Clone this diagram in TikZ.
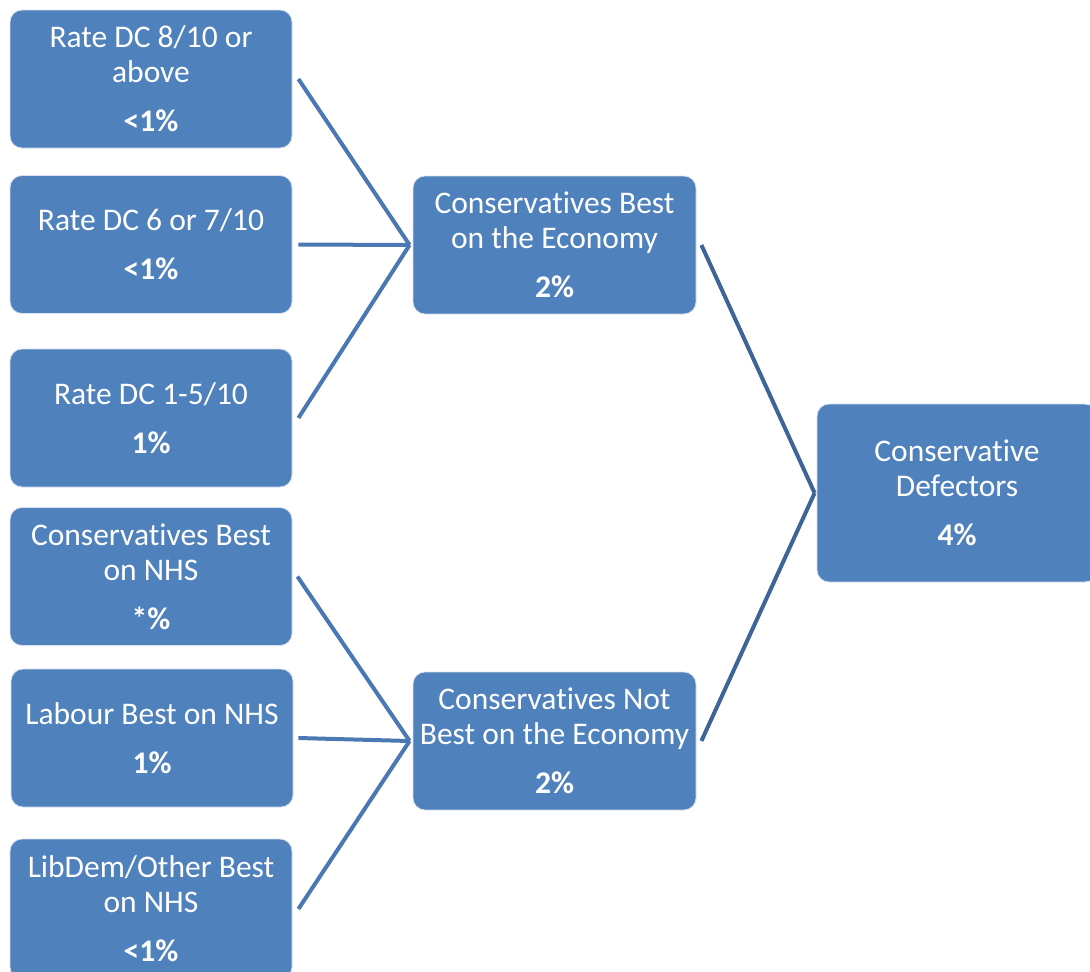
\documentclass[tikz,border=0pt]{standalone}
\usepackage{fontspec}
\setmainfont{Carlito}[Ligatures={NoCommon}]
\definecolor{boxblue}{HTML}{4F81BD}
\definecolor{edgeblue}{HTML}{D6E0EE}
\definecolor{lineleft}{HTML}{4A78B2}
\definecolor{lineright}{HTML}{3E6598}
\begin{document}
\begin{tikzpicture}[x=1pt,y=-1pt,
  box/.style={rectangle, rounded corners=12pt, fill=boxblue, draw=edgeblue, line width=0.8pt,
    minimum width=282pt, minimum height=138pt, text=white, align=center, inner sep=0pt,
    font=\fontsize{31.5}{35}\selectfont},
  connl/.style={draw=lineleft, line width=4pt},
  connr/.style={draw=lineright, line width=4pt}]
\useasboundingbox (0,0) rectangle (1090,972);
\clip (0,0) rectangle (1090,972);
% left column
\node[box] (b1) at (151,79) {Rate DC 8/10 or\\above\\[14pt]\textbf{<1\%}};
\node[box] (b2) at (151,244.5) {Rate DC 6 or 7/10\\[14pt]\textbf{<1\%}};
\node[box] (b3) at (151,418) {Rate DC 1-5/10\\[14pt]\textbf{1\%}};
\node[box] (b4) at (151,576.5) {Conservatives Best\\on NHS\\[14pt]\textbf{*\%}};
\node[box] (b5) at (152,738) {Labour Best on NHS\\[14pt]\textbf{1\%}};
\node[box, minimum height=140pt] (b6) at (151,909) {LibDem/Other Best\\on NHS\\[14pt]\textbf{<1\%}};
% middle column
\node[box, minimum width=283pt] (mA) at (554.5,245) {Conservatives Best\\on the Economy\\[14pt]\textbf{2\%}};
\node[box, minimum width=283pt] (mB) at (554.5,741) {Conservatives Not\\Best on the Economy\\[14pt]\textbf{2\%}};
% right
\node[box, minimum width=280pt, minimum height=178pt] (cd) at (957,493) {Conservative\\Defectors\\[14pt]\textbf{4\%}};
% connectors
\draw[connl] ([xshift=6pt]b1.east) -- ([xshift=-3pt]mA.west);
\draw[connl] ([xshift=6pt]b2.east) -- ([xshift=-3pt]mA.west);
\draw[connl] ([xshift=6pt]b3.east) -- ([xshift=-3pt]mA.west);
\draw[connl] ([xshift=5pt]b4.east) -- ([xshift=-3pt]mB.west);
\draw[connl] ([xshift=5pt]b5.east) -- ([xshift=-3pt]mB.west);
\draw[connl] ([xshift=6pt]b6.east) -- ([xshift=-3pt]mB.west);
\draw[connr] ([xshift=5pt]mA.east) -- ([xshift=-2pt]cd.west);
\draw[connr] ([xshift=5pt]mB.east) -- ([xshift=-2pt]cd.west);
\end{tikzpicture}
\end{document}
